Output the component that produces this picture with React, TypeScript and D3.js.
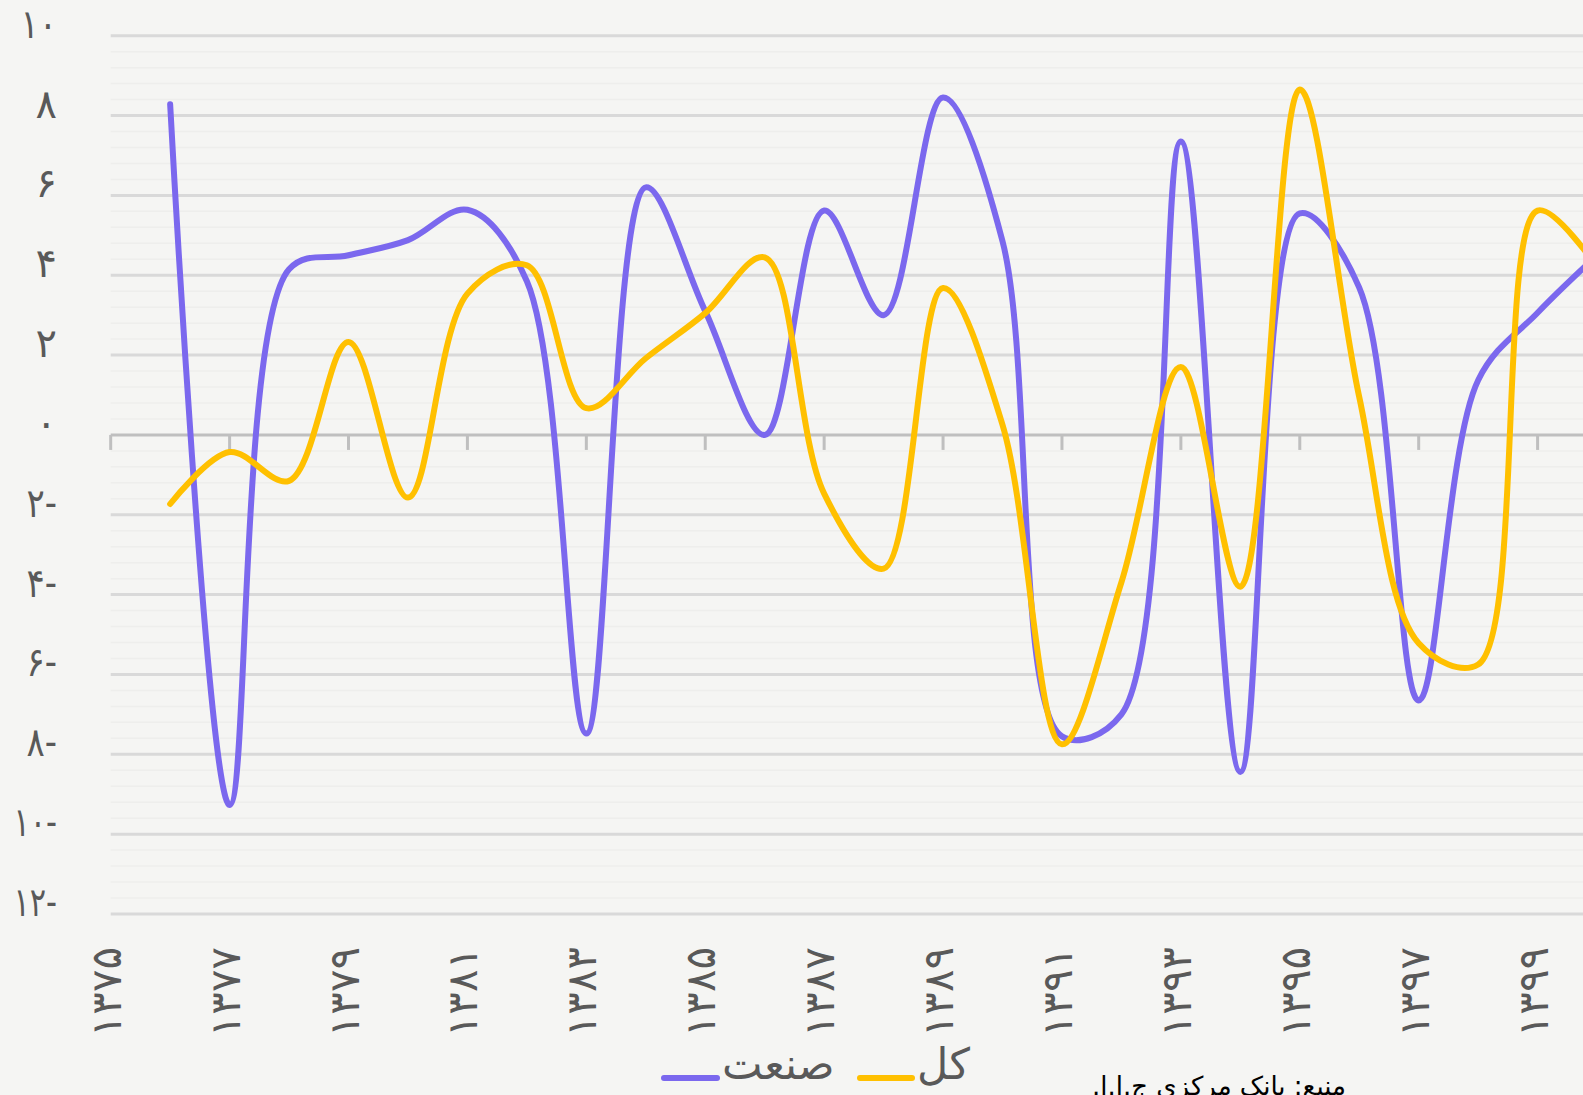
import React from "react";
import * as d3 from "d3";

const years = [1376,1377,1378,1379,1380,1381,1382,1383,1384,1385,1386,1387,1388,1389,1390,1391,1392,1393,1394,1395,1396,1397,1398,1399,1400];
const industry = [8.28,-9.27,4.15,4.5,4.88,5.64,3.85,-7.48,6.2,3.1,0.0,5.62,3.0,8.45,4.85,-7.55,-7.0,7.35,-8.44,5.55,3.69,-6.65,1.37,3.06,4.5];
const total = [-1.73,-0.43,-1.15,2.33,-1.57,3.54,4.25,0.67,1.92,3.05,4.45,-1.47,-3.35,3.68,0.25,-7.75,-3.69,1.7,-3.8,8.65,0.95,-5.22,-5.75,5.62,4.2];
const xTickYears = [1375,1377,1379,1381,1383,1385,1387,1389,1391,1393,1395,1397,1399];
const yTicks = [-12,-10,-8,-6,-4,-2,0,2,4,6,8,10];
const seriesNames = ["صنعت", "کل"];
const sourceText = "منبع: بانک مرکزی ج.ا.ا.";

const W = 1583, H = 1095;
const BG = "#f5f5f3";
const PURPLE = "#7b68ee";
const YELLOW = "#ffc000";
const TXT = "#595959";
const FONT = "'DejaVu Sans', sans-serif";

const faDigits = "۰۱۲۳۴۵۶۷۸۹";
const toFa = (n: number) => String(Math.abs(n)).replace(/\d/g, (d) => faDigits[+d]) + (n < 0 ? "-" : "");

export default function App() {
  const x = d3.scaleLinear().domain([1375, 1399]).range([110.7, 1537.6]);
  const y = d3.scaleLinear().domain([-12, 10]).range([914, 35.7]);
  const minor = d3.range(-12, 10.001, 0.4).filter((v) => Math.abs(v / 2 - Math.round(v / 2)) > 0.01);
  const line = d3
    .line<number>()
    .x((_, i) => x(years[i]))
    .y((d) => y(d))
    .curve(d3.curveCatmullRom.alpha(0.5));
  const gridX0 = x(1375);
  const gridX1 = W + 20;
  const squeeze = (s: string) => (s.length >= 3 ? 0.76 : s.length === 2 ? 0.85 : 1);

  return (
    <svg
      width={W}
      height={H}
      style={{ position: "fixed", left: 0, top: 0, display: "block" }}
      fontFamily={FONT}
    >
      <rect x={0} y={0} width={W} height={H} fill={BG} />
      {minor.map((v, i) => (
        <line key={"m" + i} x1={gridX0} x2={gridX1} y1={y(v)} y2={y(v)} stroke="#eeeeec" strokeWidth={1.5} />
      ))}
      {yTicks.filter((v) => v !== 0).map((v) => (
        <line key={"g" + v} x1={gridX0} x2={gridX1} y1={y(v)} y2={y(v)} stroke="#d9d9d9" strokeWidth={3} />
      ))}
      <line x1={gridX0} x2={gridX1} y1={y(0)} y2={y(0)} stroke="#bfbfbf" strokeWidth={3} />
      {xTickYears.map((yr) => (
        <line key={"t" + yr} x1={x(yr)} x2={x(yr)} y1={y(0)} y2={y(0) + 15} stroke="#bfbfbf" strokeWidth={3} />
      ))}
      {yTicks.map((v) => {
        const s = toFa(v);
        return (
          <text
            key={"yl" + v}
            transform={`translate(57,${y(v) + 2}) scale(${squeeze(s)},1)`}
            textAnchor="end"
            fontSize={40}
            fill={TXT}
          >
            {s}
          </text>
        );
      })}
      {xTickYears.map((yr) => (
        <text
          key={"xl" + yr}
          transform={`translate(${x(yr) + 10},947) rotate(-90)`}
          textAnchor="end"
          fontSize={42}
          fill={TXT}
        >
          {toFa(yr)}
        </text>
      ))}
      <path d={line(industry) || ""} fill="none" stroke={PURPLE} strokeWidth={6} strokeLinejoin="round" strokeLinecap="round" />
      <path d={line(total) || ""} fill="none" stroke={YELLOW} strokeWidth={6} strokeLinejoin="round" strokeLinecap="round" />
      <line x1={664} x2={717} y1={1078} y2={1078} stroke={PURPLE} strokeWidth={6} strokeLinecap="round" />
      <text x={722} y={1079} fontSize={43} fill={TXT} textAnchor="start">{seriesNames[0]}</text>
      <line x1={860} x2={912} y1={1078} y2={1078} stroke={YELLOW} strokeWidth={6} strokeLinecap="round" />
      <text x={917} y={1079} fontSize={43} fill={TXT} textAnchor="start">{seriesNames[1]}</text>
      <text x={1219} y={1095} fontSize={26} fill="#000" textAnchor="middle" direction="rtl">{sourceText}</text>
    </svg>
  );
}
